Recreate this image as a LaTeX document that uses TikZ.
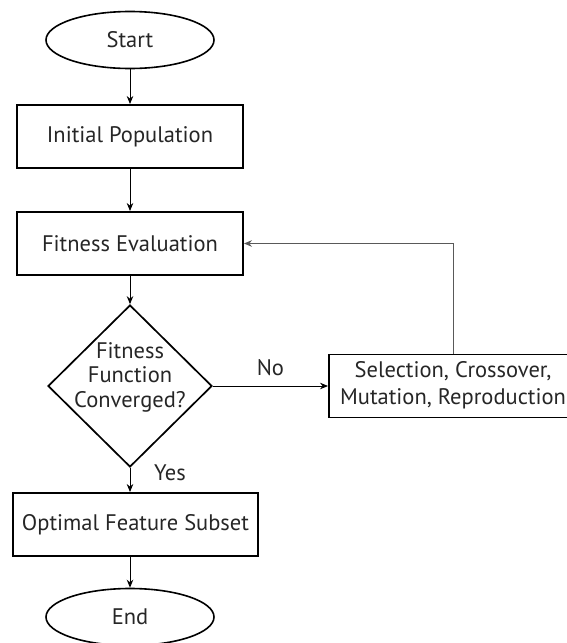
\documentclass[tikz,border=0pt]{standalone}
\usepackage{fontspec}
\setmainfont{PT Sans}
\usetikzlibrary{shapes.geometric,arrows.meta}
\begin{document}
\begin{tikzpicture}[x=1pt,y=-1pt,
  every node/.style={font=\fontsize{22.5}{27}\selectfont, text=black!85},
  box/.style={draw, line width=1.9pt, rectangle, minimum width=226pt, minimum height=63pt, inner sep=0pt},
  term/.style={draw, line width=1.6pt, ellipse, minimum width=168pt, minimum height=57pt, inner sep=0pt},
  decision/.style={draw, line width=1.7pt, diamond, minimum width=164pt, minimum height=162pt, inner sep=0pt},
  flow/.style={line width=0.9pt, -{Stealth[length=8pt,width=6.5pt]}},
  back/.style={line width=0.9pt, draw=black!65, -{Stealth[length=8pt,width=6.5pt]}},
  lbl/.style={inner sep=0pt}
]
\useasboundingbox (0,0) rectangle (567,643);
\clip (0,0) rectangle (567,643);

% flowchart blocks
\node[term] (start) at (130,40) {Start};
\node[box] (init) at (130,136.5) {Initial Population};
\node[box] (fit) at (130,243.5) {Fitness Evaluation};
\node[decision] (conv) at (130,386) {};
\node[lbl, align=center, font=\fontsize{22.5}{24.5}\selectfont] (convtext) at (130,377) {Fitness\\Function\\Converged?};
\node[box, minimum width=248pt] (sel) at (453,386) {\begin{tabular}{@{}c@{}}Selection, Crossover,\\[0pt]Mutation, Reproduction\end{tabular}};
\node[box, minimum width=245pt] (opt) at (135.5,524.5) {Optimal Feature Subset};
\node[term] (end) at (130,617) {End};

% connectors
\draw[flow] (start) -- (init);
\draw[flow] (init) -- (fit);
\draw[flow] (fit) -- (conv.north);
\draw[flow] (conv.east) -- node[lbl, above=10pt] (no) {No} (sel.west);
\draw[flow] (conv.south) -- (conv.south |- opt.north);
\node[lbl] (yes) at (170,473) {Yes};
\draw[flow] (end.north |- opt.south) -- (end.north);
\draw[back] (sel.north) |- (fit.east);
\end{tikzpicture}
\end{document}
